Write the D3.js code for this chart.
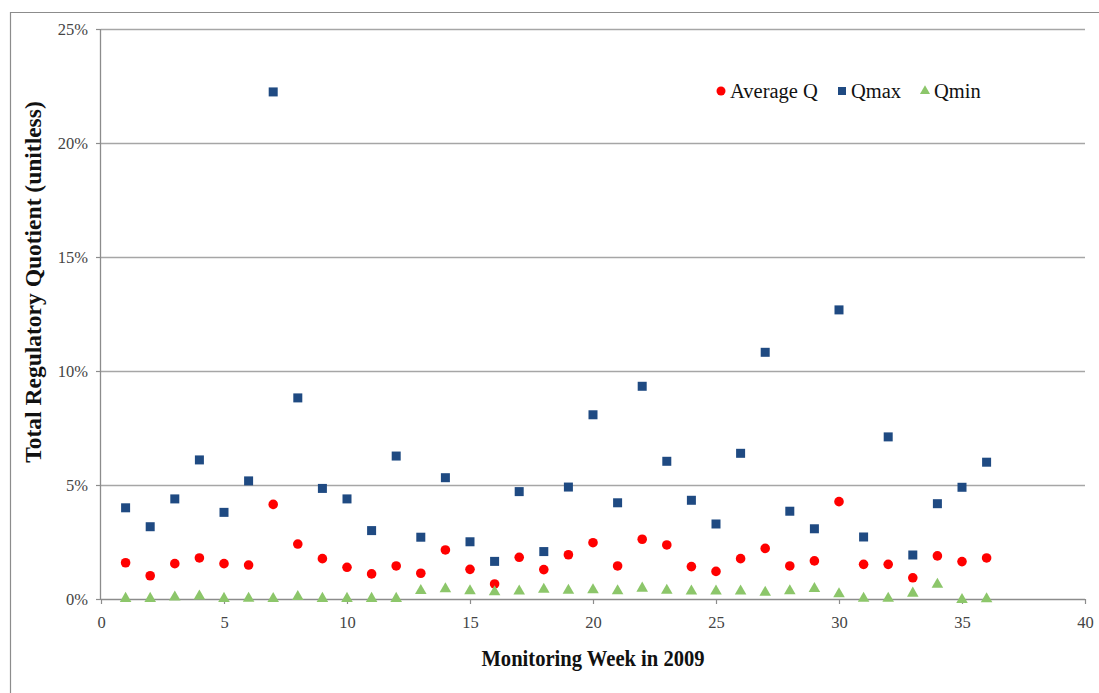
<!DOCTYPE html>
<html>
<head>
<meta charset="utf-8">
<script src="https://cdn.jsdelivr.net/npm/d3@7"></script>
<style>
  body { margin: 0; background: #fff; }
  text { font-family: "Liberation Serif", "Times New Roman", serif; }
</style>
</head>
<body>
<div id="chart"></div>
<script>
// weekly values, in percent
var weeks = d3.range(1, 37);
var avgQ = [1.59, 1.02, 1.55, 1.80, 1.55, 1.49, 4.15, 2.41, 1.77, 1.39, 1.10, 1.45,
  1.13, 2.15, 1.30, 0.66, 1.83, 1.29, 1.94, 2.47, 1.45, 2.62, 2.37, 1.42, 1.21, 1.77,
  2.22, 1.45, 1.67, 4.27, 1.52, 1.52, 0.93, 1.89, 1.64, 1.80];
var qMax = [4.00, 3.17, 4.39, 6.10, 3.80, 5.18, 22.24, 8.82, 4.85, 4.39, 3.00, 6.27,
  2.71, 5.32, 2.51, 1.65, 4.71, 2.08, 4.91, 8.08, 4.22, 9.33, 6.04, 4.33, 3.29, 6.39,
  10.82, 3.85, 3.08, 12.68, 2.72, 7.11, 1.93, 4.18, 4.90, 6.00];
var qMin = [0.02, 0.02, 0.08, 0.12, 0.02, 0.03, 0.01, 0.10, 0.02, 0.02, 0.02, 0.02,
  0.37, 0.44, 0.35, 0.31, 0.34, 0.42, 0.38, 0.40, 0.35, 0.47, 0.38, 0.34, 0.34, 0.34,
  0.29, 0.35, 0.45, 0.22, 0.03, 0.03, 0.25, 0.64, -0.03, 0.00];
var xTicks = [0, 5, 10, 15, 20, 25, 30, 35, 40];
var yTicks = [0, 5, 10, 15, 20, 25];

var svgWidth = 1099;
var svgHeight = 693;
var margin = { top: 29, right: 14, bottom: 94, left: 101 };
var width = svgWidth - margin.left - margin.right;
var height = svgHeight - margin.top - margin.bottom;

var svg = d3.select("#chart")
  .append("svg")
  .attr("width", svgWidth)
  .attr("height", svgHeight);

// chart frame (left and top edges show)
svg.append("path")
  .attr("d", "M10.5,693 V12.5 H1099")
  .attr("fill", "none")
  .attr("stroke", "#8c8c8c")
  .attr("stroke-width", 1.2);

var chartGroup = svg.append("g")
  .attr("transform", `translate(${margin.left}, ${margin.top})`);

var x = d3.scaleLinear().domain([0, 40]).range([0, width]);
var y = d3.scaleLinear().domain([0, 25]).range([height, 0]);

// gridlines
chartGroup.append("g")
  .selectAll("line")
  .data(yTicks.filter(d => d > 0))
  .enter()
  .append("line")
  .attr("x1", 0)
  .attr("x2", width)
  .attr("y1", d => Math.round(y(d)) + 0.5)
  .attr("y2", d => Math.round(y(d)) + 0.5)
  .attr("stroke", "#a6a6a6")
  .attr("stroke-width", 1.3);

// axes
var leftAxis = d3.axisLeft(y)
  .tickValues(yTicks)
  .tickSize(5)
  .tickPadding(8)
  .tickFormat(d => d + "%");
var bottomAxis = d3.axisBottom(x)
  .tickValues(xTicks)
  .tickSize(5)
  .tickPadding(12);

var yAxis = chartGroup.append("g").call(leftAxis);
var xAxis = chartGroup.append("g")
  .attr("transform", `translate(0, ${height})`)
  .call(bottomAxis);

[xAxis, yAxis].forEach(function(ax) {
  ax.select(".domain").attr("stroke", "#8c8c8c").attr("stroke-width", 1.3);
  ax.selectAll(".tick line").attr("stroke", "#8c8c8c").attr("stroke-width", 1.2);
  ax.selectAll(".tick text")
    .attr("fill", "#444")
    .style("font-family", "Liberation Serif, serif")
    .style("font-size", "16.5px");
});
xAxis.select(".domain").attr("d", `M0,0.5H${width}`);
yAxis.select(".domain").attr("d", `M-0.5,${height}V0`);

// markers
chartGroup.append("g")
  .selectAll("rect")
  .data(weeks)
  .enter()
  .append("rect")
  .attr("x", (d, i) => x(d) - 4.5)
  .attr("y", (d, i) => y(qMax[i]) - 4.5)
  .attr("width", 9)
  .attr("height", 9)
  .attr("fill", "#1f4a82");

chartGroup.append("g")
  .selectAll("circle")
  .data(weeks)
  .enter()
  .append("circle")
  .attr("cx", (d, i) => x(d))
  .attr("cy", (d, i) => y(avgQ[i]))
  .attr("r", 4.8)
  .attr("fill", "#ff0000");

var tri = d3.symbol().type(d3.symbolTriangle).size(58);
chartGroup.append("g")
  .selectAll("path")
  .data(weeks)
  .enter()
  .append("path")
  .attr("d", tri)
  .attr("transform", (d, i) => `translate(${x(d)}, ${y(qMin[i])})`)
  .attr("fill", "#8cc66a");

// axis titles
svg.append("text")
  .attr("x", 0)
  .attr("y", 0)
  .attr("text-anchor", "middle")
  .style("font-size", "20px")
  .style("font-weight", "bold")
  .attr("fill", "#111")
  .attr("transform", "translate(593,666) scale(1.03,1.12)")
  .text("Monitoring Week in 2009");

svg.append("text")
  .attr("transform", "translate(41, 282) rotate(-90) scale(1.12,1.05)")
  .attr("text-anchor", "middle")
  .style("font-size", "21px")
  .style("font-weight", "bold")
  .attr("fill", "#111")
  .text("Total Regulatory Quotient (unitless)");

// legend
var legendItems = [
  { label: "Average Q", x: 721, shape: "circle", color: "#ff0000" },
  { label: "Qmax", x: 842, shape: "square", color: "#1f4a82" },
  { label: "Qmin", x: 925, shape: "triangle", color: "#8cc66a" }
];
var legend = svg.append("g");
legendItems.forEach(function(item) {
  var g = legend.append("g").attr("transform", `translate(${item.x}, 91)`);
  if (item.shape === "circle") {
    g.append("circle").attr("r", 4.5).attr("fill", item.color);
  } else if (item.shape === "square") {
    g.append("rect").attr("x", -4).attr("y", -4).attr("width", 8).attr("height", 8).attr("fill", item.color);
  } else {
    g.append("path").attr("d", d3.symbol().type(d3.symbolTriangle).size(44)).attr("fill", item.color);
  }
  g.append("text")
    .attr("x", 9)
    .attr("y", 6.5)
    .style("font-size", "20.5px")
    .attr("fill", "#111")
    .text(item.label);
});
</script>
</body>
</html>
